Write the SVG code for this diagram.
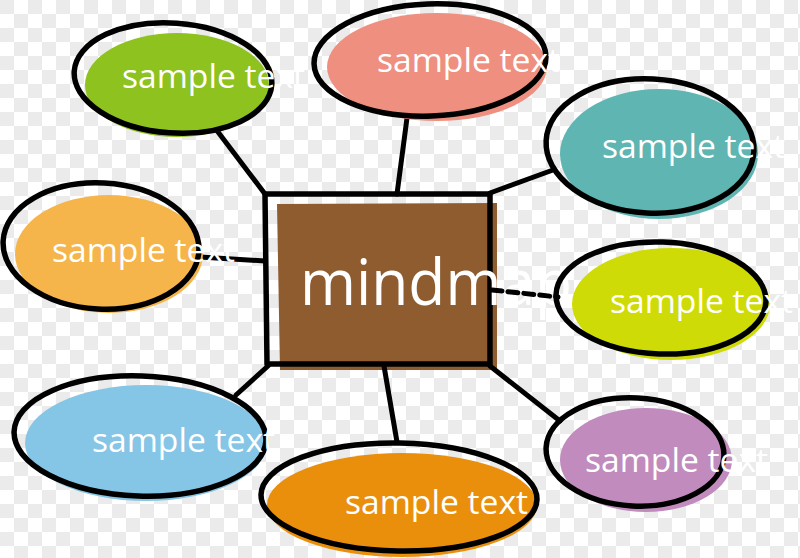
<svg xmlns="http://www.w3.org/2000/svg" width="800" height="558" viewBox="0 0 800 558">
<defs>
<pattern id="chk" width="28" height="28" patternUnits="userSpaceOnUse">
<rect width="28" height="28" fill="#ffffff"/>
<rect width="14" height="14" fill="#ebebeb"/>
<rect x="14" y="14" width="14" height="14" fill="#ebebeb"/>
</pattern>
</defs>
<style>
.ln{stroke:#000;stroke-width:5;fill:none;stroke-linecap:round}
.ol{stroke:#000;stroke-width:5.5;fill:none}
.tx{font-family:"Open Sans","Noto Sans",sans-serif;font-size:33px;fill:#fff}
</style>
<rect width="800" height="558" fill="url(#chk)"/>
<g id="center">
<polygon points="277,204 497,203 497,370 280,370" fill="#8f5c30"/>
<path class="ol" d="M265,194 L490,194 L490,364 L267,364 Z" stroke-linejoin="round"/>
<text x="300" y="305" font-family="Open Sans, Noto Sans, sans-serif" font-size="64" fill="#fff" textLength="272" lengthAdjust="spacingAndGlyphs">mindmap</text>
</g>
<g id="connectors">
<line class="ln" x1="215" y1="128" x2="265" y2="194"/>
<line class="ln" x1="407" y1="118" x2="397" y2="194"/>
<line class="ln" x1="553" y1="170" x2="490" y2="193"/>
<line class="ln" x1="200" y1="257" x2="265" y2="261"/>
<line class="ln" x1="492" y1="290" x2="558" y2="297" stroke-dasharray="10 6" stroke-linecap="butt"/>
<line class="ln" x1="268" y1="366" x2="236" y2="395"/>
<line class="ln" x1="384" y1="366" x2="397" y2="442"/>
<line class="ln" x1="490" y1="366" x2="560" y2="421"/>
</g>
<g id="n-green">
<ellipse cx="177" cy="85" rx="92" ry="52" fill="#8dc21f"/>
<ellipse class="ol" cx="173" cy="78" rx="99" ry="55" transform="rotate(4 173 78)"/>
<text class="tx" x="122" y="88" textLength="183" lengthAdjust="spacingAndGlyphs">sample text</text>
</g>
<g id="n-salmon">
<ellipse cx="437" cy="67" rx="110" ry="54" fill="#ef8f80"/>
<ellipse class="ol" cx="430" cy="60" rx="116" ry="56" transform="rotate(-2 430 60)"/>
<text class="tx" x="377" y="72" textLength="183" lengthAdjust="spacingAndGlyphs">sample text</text>
</g>
<g id="n-teal">
<ellipse cx="659" cy="154" rx="99" ry="65" fill="#5eb5b2"/>
<ellipse class="ol" cx="650" cy="146" rx="104" ry="67" transform="rotate(3 650 146)"/>
<text class="tx" x="602" y="158" textLength="183" lengthAdjust="spacingAndGlyphs">sample text</text>
</g>
<g id="n-yellow">
<ellipse cx="109" cy="254" rx="94" ry="59" fill="#f5b54b"/>
<ellipse class="ol" cx="101" cy="246" rx="98" ry="63" transform="rotate(3 101 246)"/>
<text class="tx" x="52" y="262" textLength="183" lengthAdjust="spacingAndGlyphs">sample text</text>
</g>
<g id="n-lime">
<ellipse cx="671" cy="304" rx="99" ry="56" fill="#cfdb06"/>
<ellipse class="ol" cx="661" cy="298" rx="105" ry="56" transform="rotate(2 661 298)"/>
<text class="tx" x="610" y="313" textLength="183" lengthAdjust="spacingAndGlyphs">sample text</text>
</g>
<g id="n-blue">
<ellipse cx="146" cy="443" rx="121" ry="58" fill="#85c5e6"/>
<ellipse class="ol" cx="140" cy="436" rx="126" ry="60" transform="rotate(2 140 436)"/>
<text class="tx" x="92" y="452" textLength="183" lengthAdjust="spacingAndGlyphs">sample text</text>
</g>
<g id="n-orange">
<ellipse cx="402" cy="505" rx="135" ry="52" fill="#e98f0c"/>
<ellipse class="ol" cx="399" cy="497" rx="138" ry="54" transform="rotate(1 399 497)"/>
<text class="tx" x="345" y="514" textLength="183" lengthAdjust="spacingAndGlyphs">sample text</text>
</g>
<g id="n-purple">
<ellipse cx="646" cy="460" rx="86" ry="52" fill="#c18bbe"/>
<ellipse class="ol" cx="635" cy="452" rx="89" ry="54" transform="rotate(3 635 452)"/>
<text class="tx" x="585" y="472" textLength="183" lengthAdjust="spacingAndGlyphs">sample text</text>
</g>
</svg>
